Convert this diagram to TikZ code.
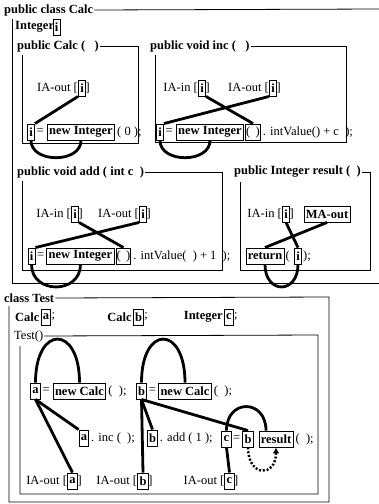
\documentclass[tikz,border=0pt]{standalone}
\usepackage{fontspec}
\setmainfont{Liberation Serif}
\usetikzlibrary{positioning,arrows.meta}
\newcommand{\figfont}{\fontsize{12.5}{14}\selectfont}

\begin{document}
\begin{tikzpicture}[
  x=1pt, y=-1pt,
  every node/.style={font=\figfont, inner sep=1pt},
  head/.style={font=\figfont\bfseries, anchor=west},
  txt/.style={font=\figfont},
  code/.style={font=\figfont\bfseries},
  var/.style={draw, line width=0.9pt, inner xsep=1.8pt, inner ysep=1pt, minimum height=16pt, font=\figfont\bfseries},
  slot/.style={draw, line width=0.9pt, inner xsep=0.5pt, inner ysep=1pt, minimum height=16pt, font=\figfont},
  border/.style={line width=0.8pt},
  link/.style={line width=2.8pt},
  flow/.style={line width=2.4pt, dash pattern=on 2pt off 1.8pt, -{Latex[length=6pt,width=7pt]}}
]
\useasboundingbox (0,0) rectangle (379,504);

\node[head] (calcT) at (3,10) {public class Calc};
\draw[border] (calcT.east) -- (379,9);
\draw[border] (12,19) -- (12,283) -- (379,283);
\node[code, anchor=west] (intF) at (14,27) {Integer};
\node[var] (iF) at (56.5,27) {i};

\node[head] (ctorT) at (16,46) {public Calc ( \ \ )};
\draw[border] (ctorT.east) -- (138,46) -- (138,143) -- (22,143) -- (22,55);
\node[var] (ao1) at (82,88) {i};
\node[txt, left=-1pt of ao1] {IA-out [};
\node[txt, right=-1.5pt of ao1] {]};
\node[var] (i1) at (31,132) {i};
\node[txt, right=0.5pt of i1] {=};
\node[var] (new1) at (81,132) {new Integer};
\node[txt, right=1pt of new1] {( 0 );};
\draw[link] (i1.north east) -- (ao1.south west);
\draw[link] (i1.south) .. controls +(0,23) and +(0,23) .. (new1.south);

\node[head] (incT) at (149,46) {public void inc ( \ \ )};
\draw[border] (incT.east) -- (346,46) -- (346,142) -- (155,142) -- (155,55);
\node[var] (ai2) at (202,88) {i};
\node[txt, left=-1pt of ai2] {IA-in [};
\node[txt, right=-1.5pt of ai2] {]};
\node[var] (ao2) at (273,88) {i};
\node[txt, left=-1pt of ao2] {IA-out [};
\node[txt, right=-1.5pt of ao2] {]};
\node[var] (i2) at (160,132) {i};
\node[txt, right=0.5pt of i2] {=};
\node[var] (new2) at (210,132) {new Integer};
\node[slot] (p2) at (253,132) {( \,)};
\node[txt, right=1pt of p2] {. intValue() + c \ );};
\draw[link] (ai2.south east) -- (p2.north);
\draw[link] (ao2.south west) -- (i2.north east);
\draw[link] (i2.south) .. controls +(0,23) and +(0,23) .. (new2.south);

\node[head] (addT) at (16,172) {public void add ( int c \ )};
\draw[border] (addT.east) -- (222,172) -- (222,270) -- (22,270) -- (22,181);
\node[var] (ai3) at (75,214) {i};
\node[txt, left=-1pt of ai3] {IA-in [};
\node[txt, right=-1.5pt of ai3] {]};
\node[var] (ao3) at (143,214) {i};
\node[txt, left=-1pt of ao3] {IA-out [};
\node[txt, right=-1.5pt of ao3] {]};
\node[var] (i3) at (31.5,256) {i};
\node[txt, right=0.5pt of i3] {=};
\node[var] (new3) at (80.5,256) {new Integer};
\node[slot] (p3) at (123.5,256) {( \,)};
\node[txt, right=1pt of p3] {. intValue( \ ) + 1 \ );};
\draw[link] (ai3.south east) -- (p3.north);
\draw[link] (ao3.south west) -- (i3.north east);
\draw[link] (i3.south) .. controls +(0,30) and +(0,30) .. (new3.south);

\node[head] (resT) at (233,172) {public Integer result ( \ )};
\draw[border] (resT.east) -- (370,172) -- (370,270) -- (240,270) -- (240,182);
\node[var] (ai4) at (286,214) {i};
\node[txt, left=-1pt of ai4] {IA-in [};
\node[txt, right=-1.5pt of ai4] {]};
\node[var] (ma4) at (327,214) {MA-out};
\node[var] (ret4) at (265,256) {return};
\node[txt, right=0pt of ret4] {(};
\node[var] (i4) at (298,256) {i};
\node[txt, right=0pt of i4] {);};
\draw[link] (ai4.south) -- (i4.north);
\draw[link] (ma4.south) -- (ret4.north);
\draw[link] (ret4.south) .. controls +(0,30) and +(0,30) .. (i4.south);

\node[head] (testT) at (3,298) {class Test};
\draw[border] (testT.east) -- (329,297) -- (329,502) -- (9,502) -- (9,306);
\node[var] (va) at (46,317) {a};
\node[code, left=0pt of va] {Calc};
\node[txt, right=-1pt of va] {;};
\node[var] (vb) at (138.5,317) {b};
\node[code, left=0pt of vb] {Calc};
\node[txt, right=-1pt of vb] {;};
\node[var] (vc) at (229,317) {c};
\node[code, left=0pt of vc] {Integer};
\node[txt, right=-1pt of vc] {;};

\node[head, font=\figfont] (mainT) at (13,336) {Test()};
\draw[border] (mainT.east) -- (318,335) -- (318,494) -- (20,494) -- (20,346);
\node[var] (a1) at (35.5,391) {a};
\node[txt, right=0.5pt of a1] {=};
\node[var] (nc1) at (79.5,391) {new Calc};
\node[txt, right=1pt of nc1] {( \ );};
\node[var] (b1) at (141.5,391) {b};
\node[txt, right=0.5pt of b1] {=};
\node[var] (nc2) at (185,391) {new Calc};
\node[txt, right=1pt of nc2] {( \ );};
\draw[link] (a1.north) .. controls +(0,-58) and +(0,-58) .. (nc1.north);
\draw[link] (b1.north) .. controls +(0,-58) and +(0,-58) .. (nc2.north);

\node[var] (a2) at (84,438) {a};
\node[txt, right=0.5pt of a2] {. inc ( \ );};
\node[var] (b2) at (152.5,438) {b};
\node[txt, right=0.5pt of b2] {. add ( 1 );};
\node[var] (c2) at (226.5,439) {c};
\node[txt, right=0.5pt of c2] {=};
\node[var] (b3) at (248,439) {b};
\node[var] (r2) at (276,439) {result};
\node[txt, right=1pt of r2] {( \ );};
\draw[link] (c2.north) .. controls +(0,-32) and +(0,-32) .. ([xshift=-10pt]r2.north);
\draw[flow] (b3.south) .. controls +(0,30) and +(0,30) .. (r2.south);

\node[var] (oa) at (72.5,481) {a};
\node[txt, left=-1pt of oa] {IA-out [};
\node[txt, right=-1.5pt of oa] {]};
\node[var] (ob) at (143,481) {b};
\node[txt, left=-1pt of ob] {IA-out [};
\node[txt, right=-1.5pt of ob] {]};
\node[var] (oc) at (229.5,481) {c};
\node[txt, left=-1pt of oc] {IA-out [};
\node[txt, right=-1.5pt of oc] {]};

\draw[link] (a1.south) -- (a2.north west);
\draw[link] (a1.south) -- (oa.north);
\draw[link] (b1.south) -- (b2.north);
\draw[link] (b1.south) -- (ob.north);
\draw[link] (b1.south) -- (b3.north);
\draw[link] (c2.south) -- (oc.north);
\end{tikzpicture}
\end{document}
